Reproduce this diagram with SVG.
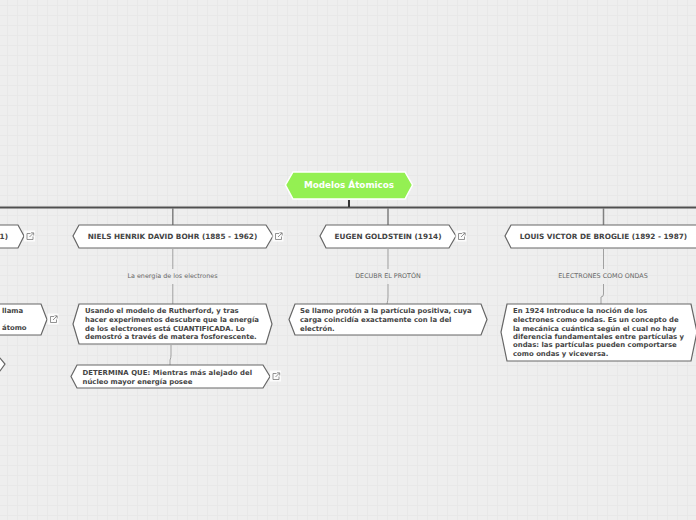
<svg xmlns="http://www.w3.org/2000/svg" width="696" height="520" viewBox="0 0 696 520">
<style>
text{font-family:"DejaVu Sans",Verdana,sans-serif}
.n{fill:#fff;stroke:#666;stroke-width:1.2}
.t{font-size:6.9px;font-weight:700;fill:#444}
.u{font-size:7.3px;font-weight:700;fill:#444;text-anchor:middle}
.l{font-size:6.4px;fill:#666;text-anchor:middle}
.c{fill:none;stroke:#a0a0a0;stroke-width:1}
.i{fill:none;stroke:#777;stroke-width:.8}
</style>
<defs>
<pattern id="g" width="10" height="10" patternUnits="userSpaceOnUse" x="7" y="5">
<path d="M.5 0V10M0 .5H10" fill="none" stroke="#e8e8e8" stroke-width="1"/>
</pattern>
<g id="ic"><rect x="-1.500" y="-1.500" width="11" height="11" fill="#fff" opacity=".8"/><path class="i" d="M5 1.500H1.500V7.500H7.500V4.500M4 5L8 1M5.500 .8H8.200V3.500"/></g>
</defs>
<rect width="696" height="520" fill="#eee"/>
<rect width="696" height="520" fill="url(#g)"/>
<g id="connectors">
<path d="M0 207.500H696" fill="none" stroke="#505050" stroke-width="2"/>
<path d="M349 200V207" fill="none" stroke="#333" stroke-width="2"/>
<path d="M172.800 208V225M388 208V225M603.500 208V225" fill="none" stroke="#808080" stroke-width="1.500"/>
<path class="c" d="M172.800 249V269M172.800 284V304M388 249V269M388 284V297Q388 300 387 304M603.500 249V269M603.500 284V294Q603.500 297 601 297V304M171 345V355Q171 358 170 360V365"/>
</g>
<g id="root"><path d="M293 172H405L412.500 185L405 199H293L285.500 185Z" fill="#94f052" stroke="#fff" stroke-width="1.500"/><text x="349" y="188" text-anchor="middle" font-size="8.800" font-weight="700" fill="#fff">Modelos Átomicos</text></g>
<g id="n1"><path class="n" d="M-5 225H18L24 236L18 248H-5Z"/><text x="8" y="239" class="u" style="text-anchor:end">1)</text><use href="#ic" x="25.500" y="232"/></g>
<g id="n2"><path class="n" d="M79 225H266L273 236L266 248H79L73 236Z"/><text x="172.500" y="239" class="u">NIELS HENRIK DAVID BOHR (1885 - 1962)</text><use href="#ic" x="274" y="232"/></g>
<g id="n3"><path class="n" d="M326 225H449L456 236L449 248H326L320 236Z"/><text x="388" y="239" class="u">EUGEN GOLDSTEIN (1914)</text><use href="#ic" x="457" y="232"/></g>
<g id="n4"><path class="n" d="M511 225H700V248H511L505 236Z"/><text x="603.500" y="239" class="u">LOUIS VICTOR DE BROGLIE (1892 - 1987)</text></g>
<g id="l2"><text x="172.500" y="278" class="l">La energía de los electrones</text></g>
<g id="l3"><text x="388" y="278" class="l">DECUBR EL PROTÓN</text></g>
<g id="l4"><text x="603" y="278" class="l">ELECTRONES COMO ONDAS</text></g>
<g id="n5"><path class="n" d="M-5 304H41L47 319.500L41 335H-5Z"/><text x="2" y="313" class="t">llama</text><text x="2" y="330" class="t">átomo</text><use href="#ic" x="49" y="315"/></g>
<g id="n6"><path class="n" d="M-5 358H0L5 364L0 371H-5Z"/></g>
<g id="n7"><path class="n" d="M79 304H266L272 324L266 344H79L73 324Z"/>
<text class="t"><tspan x="85" y="313">Usando el modelo de Rutherford, y tras</tspan><tspan x="85" y="322">hacer experimentos descubre que la energía</tspan><tspan x="85" y="330.500">de los electrones está CUANTIFICADA. Lo</tspan><tspan x="85" y="339">demostró a través de matera fosforescente.</tspan></text></g>
<g id="n8"><path class="n" d="M77 365H263L270 376.500L263 388H77L71 376.500Z"/>
<text class="t"><tspan x="82.500" y="375" textLength="169.500">DETERMINA QUE: Mientras más alejado del</tspan><tspan x="82.500" y="383.500">núcleo mayor energía posee</tspan></text><use href="#ic" x="271.500" y="372"/></g>
<g id="n9"><path class="n" d="M295 304H481L487 319.500L481 335H295L289 319.500Z"/>
<text class="t"><tspan x="300" y="313">Se llamo protón a la partícula positiva, cuya</tspan><tspan x="300" y="322">carga coincidía exactamente con la del</tspan><tspan x="300" y="330.500">electrón.</tspan></text></g>
<g id="n10"><path class="n" d="M507 304H691L697 332L691 361H507L501 332Z"/>
<text class="t"><tspan x="513" y="313">En 1924 Introduce la noción de los</tspan><tspan x="513" y="322">electrones como ondas. Es un concepto de</tspan><tspan x="513" y="330.500">la mecánica cuántica según el cual no hay</tspan><tspan x="513" y="339">diferencia fundamentales entre partículas y</tspan><tspan x="513" y="347">ondas: las partículas pueden comportarse</tspan><tspan x="513" y="356">como ondas y viceversa.</tspan></text></g>
</svg>
